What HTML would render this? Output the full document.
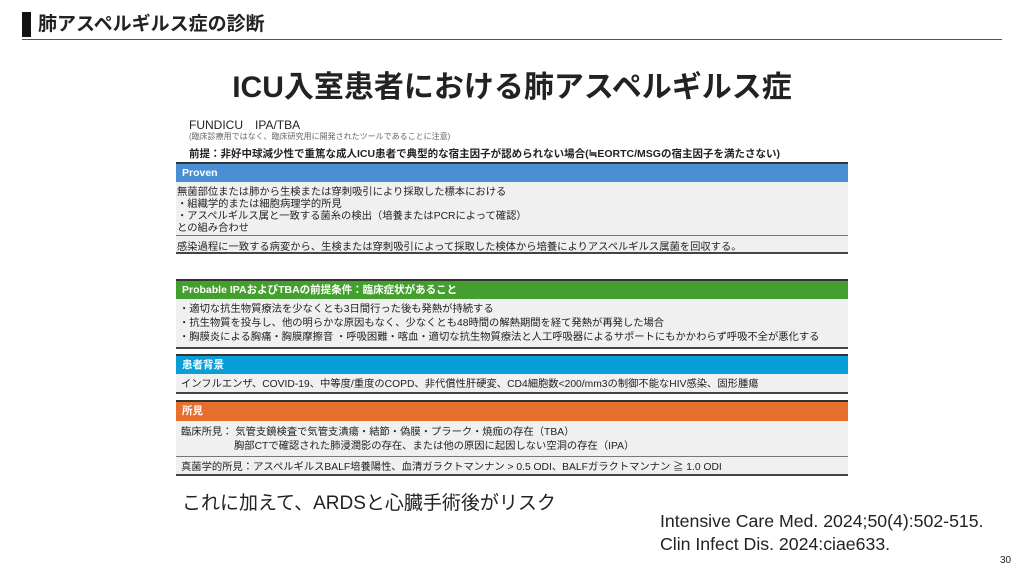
<!DOCTYPE html>
<html><head><meta charset="utf-8"><style>
*{margin:0;padding:0;box-sizing:border-box}
body{width:1024px;height:576px;background:#fff;position:relative;overflow:hidden;font-family:"Liberation Sans","Noto Sans CJK JP",sans-serif;color:#222}
.a{position:absolute;white-space:nowrap}
.hd{position:absolute;left:176px;width:672px;color:#fff;font-weight:bold;font-size:10.5px;padding-left:6px;border-top:2px solid #333}
.bx{position:absolute;left:176px;width:672px;background:#f0f0f0}
.ln{position:absolute;left:176px;width:672px;height:2px;background:#444}
.t{position:absolute;font-size:10.3px;line-height:12px;white-space:nowrap;color:#222}
</style></head><body>
<div class="a" style="left:22px;top:12px;width:9px;height:25px;background:#111"></div>
<div class="a" style="left:38px;top:12px;font-size:19px;font-weight:bold;line-height:25px">肺アスペルギルス症の診断</div>
<div class="a" style="left:22px;top:39px;width:980px;height:1px;background:#555"></div>
<div class="a" style="left:0;width:1024px;text-align:center;top:68px;font-size:30px;font-weight:bold;line-height:40px">ICU入室患者における肺アスペルギルス症</div>
<div class="a" style="left:189px;top:116px;font-size:12px">FUNDICU　IPA/TBA</div>
<div class="a" style="left:189px;top:131px;font-size:8px;color:#666">(臨床診療用ではなく、臨床研究用に開発されたツールであることに注意)</div>
<div class="a" style="left:189px;top:146px;font-size:10.5px;font-weight:bold">前提：非好中球減少性で重篤な成人ICU患者で典型的な宿主因子が認められない場合(≒EORTC/MSGの宿主因子を満たさない)</div>

<div class="hd" style="top:162px;height:20px;line-height:18px;background:#4a8fd4">Proven</div>
<div class="bx" style="top:182px;height:70px"></div>
<div class="t" style="left:177px;top:187px">無菌部位または肺から生検または穿刺吸引により採取した標本における</div>
<div class="t" style="left:177px;top:199px">・組織学的または細胞病理学的所見</div>
<div class="t" style="left:177px;top:211px">・アスペルギルス属と一致する菌糸の検出（培養またはPCRによって確認）</div>
<div class="t" style="left:177px;top:223px">との組み合わせ</div>
<div class="a" style="left:176px;top:235px;width:672px;height:1px;background:#777"></div>
<div class="t" style="left:177px;top:242px">感染過程に一致する病変から、生検または穿刺吸引によって採取した検体から培養によりアスペルギルス属菌を回収する。</div>
<div class="ln" style="top:252px"></div>

<div class="hd" style="top:279px;height:20px;line-height:18px;background:#44a02e">Probable IPAおよびTBAの前提条件：臨床症状があること</div>
<div class="bx" style="top:299px;height:48px"></div>
<div class="t" style="left:179px;top:304px">・適切な抗生物質療法を少なくとも3日間行った後も発熱が持続する</div>
<div class="t" style="left:179px;top:318px">・抗生物質を投与し、他の明らかな原因もなく、少なくとも48時間の解熱期間を経て発熱が再発した場合</div>
<div class="t" style="left:179px;top:332px">・胸膜炎による胸痛・胸膜摩擦音 ・呼吸困難・喀血・適切な抗生物質療法と人工呼吸器によるサポートにもかかわらず呼吸不全が悪化する</div>
<div class="ln" style="top:347px"></div>

<div class="hd" style="top:354px;height:20px;line-height:18px;background:#0a9ed8">患者背景</div>
<div class="bx" style="top:374px;height:18px"></div>
<div class="t" style="left:181px;top:379px">インフルエンザ、COVID-19、中等度/重度のCOPD、非代償性肝硬変、CD4細胞数&lt;200/mm3の制御不能なHIV感染、固形腫瘍</div>
<div class="ln" style="top:392px"></div>

<div class="hd" style="top:400px;height:21px;line-height:19px;background:#e8702e">所見</div>
<div class="bx" style="top:421px;height:54px"></div>
<div class="t" style="left:181px;top:427px">臨床所見： 気管支鏡検査で気管支潰瘍・結節・偽膜・プラーク・焼痂の存在（TBA）</div>
<div class="t" style="left:234px;top:441px">胸部CTで確認された肺浸潤影の存在、または他の原因に起因しない空洞の存在（IPA）</div>
<div class="a" style="left:176px;top:456px;width:672px;height:1px;background:#777"></div>
<div class="t" style="left:181px;top:462px">真菌学的所見：アスペルギルスBALF培養陽性、血清ガラクトマンナン &gt; 0.5 ODI、BALFガラクトマンナン ≧ 1.0 ODI</div>
<div class="ln" style="top:474px"></div>

<div class="a" style="left:182px;top:488px;font-size:19px">これに加えて、ARDSと心臓手術後がリスク</div>
<div class="a" style="left:660px;top:511px;font-size:17.7px">Intensive Care Med. 2024;50(4):502-515.</div>
<div class="a" style="left:660px;top:534px;font-size:17.7px">Clin Infect Dis. 2024:ciae633.</div>
<div class="a" style="left:1000px;top:555px;font-size:10px">30</div>
</body></html>
